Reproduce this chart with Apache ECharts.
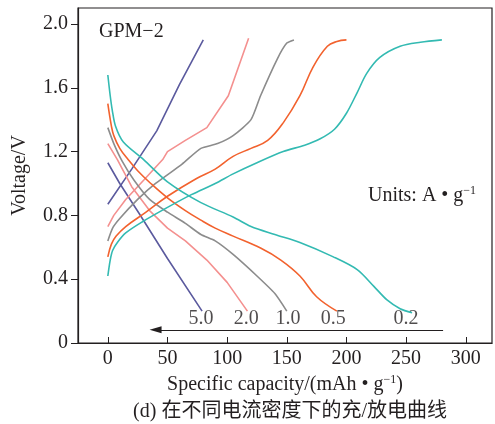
<!DOCTYPE html>
<html>
<head>
<meta charset="utf-8">
<script src="https://cdn.jsdelivr.net/npm/echarts@6/dist/echarts.min.js"></script>
<style>
  html, body { margin: 0; padding: 0; background: #fff; }
  #chart { width: 495px; height: 424px; }
</style>
</head>
<body>
<div id="chart"></div>
<script>
// current densities, A/g
const rates = ['5.0', '2.0', '1.0', '0.5', '0.2'];

// charge curves [capacity mAh/g, voltage V]
const charge50 = [[0, 0.87], [20, 1.09], [41, 1.33], [60, 1.62], [80, 1.90]];
const charge20 = [[0, 0.73], [5, 0.80], [15, 0.90], [30, 1.02], [46, 1.15], [50, 1.20], [65, 1.27], [83, 1.35], [101, 1.55], [118, 1.91]];
const charge10 = [[0, 0.64], [4, 0.72], [10, 0.78], [25, 0.90], [40, 1.00], [62, 1.12], [78, 1.22], [92, 1.25], [105, 1.30], [120, 1.40], [128, 1.55], [142, 1.78], [150, 1.88], [156, 1.90]];
const charge05 = [[0, 0.54], [3, 0.62], [7, 0.67], [15, 0.73], [32, 0.82], [50, 0.92], [74, 1.03], [90, 1.09], [105, 1.17], [120, 1.22], [134, 1.27], [147, 1.38], [161, 1.55], [172, 1.73], [184, 1.86], [192, 1.89], [200, 1.90]];
const charge02 = [[0, 0.42], [2, 0.52], [4, 0.58], [8, 0.63], [15, 0.69], [29, 0.76], [50, 0.85], [70, 0.93], [90, 1.00], [105, 1.06], [125, 1.13], [147, 1.20], [165, 1.24], [178, 1.28], [190, 1.34], [200, 1.44], [209, 1.57], [217, 1.69], [228, 1.79], [245, 1.86], [262, 1.885], [280, 1.90]];

// discharge curves
const discharge50 = [[0, 1.13], [10, 1.00], [26, 0.815], [50, 0.53], [79, 0.20]];
const discharge20 = [[0, 1.25], [8, 1.15], [20, 0.98], [35, 0.83], [50, 0.72], [65, 0.64], [83, 0.52], [100, 0.38], [117, 0.20]];
const discharge10 = [[0, 1.35], [5, 1.25], [12, 1.14], [22, 1.02], [35, 0.90], [50, 0.82], [65, 0.75], [78, 0.68], [90, 0.64], [105, 0.555], [125, 0.42], [140, 0.31], [150, 0.20]];
const discharge05 = [[0, 1.50], [3, 1.36], [5, 1.30], [10, 1.22], [17, 1.15], [25, 1.08], [36, 1.00], [50, 0.91], [65, 0.83], [78, 0.77], [90, 0.72], [105, 0.67], [128, 0.595], [145, 0.52], [161, 0.42], [175, 0.29], [192, 0.20]];
const discharge02 = [[0, 1.68], [2, 1.55], [3.7, 1.46], [6.4, 1.36], [13, 1.26], [30, 1.15], [50, 1.01], [78, 0.88], [105, 0.79], [120, 0.73], [140, 0.68], [161, 0.63], [189, 0.54], [209, 0.46], [223, 0.355], [234, 0.27], [245, 0.215], [255, 0.19]];

// rate labels along the bottom and the arrow
const labelX = [78, 116, 151, 189, 250];
const labelY = 0.155;
const arrowFrom = [281, 0.083];
const arrowTo = [40, 0.083];

const xTicks = [0, 50, 100, 150, 200, 250, 300];
const yTicks = [0, 0.4, 0.8, 1.2, 1.6, 2.0];

const colors = ['#5b5a9e', '#f4908f', '#8c8c8c', '#f2622e', '#33bab2'];
const smoothness = [0, 0, 0.2, 0.4, 0.3];
const charges = [charge50, charge20, charge10, charge05, charge02];
const discharges = [discharge50, discharge20, discharge10, discharge05, discharge02];

const font = "'Liberation Serif', 'Noto Sans CJK SC', serif";
const ink = '#231f20';
const fs = 20;
const supStyle = { fontFamily: font, fontSize: 12, color: ink, verticalAlign: 'top', padding: [0, 0, 9, 0] };

const series = [];
rates.forEach(function (r, i) {
  [charges[i], discharges[i]].forEach(function (d) {
    series.push({
      type: 'line',
      data: d,
      symbol: 'none',
      smooth: smoothness[i],
      lineStyle: { color: colors[i], width: 1.6 },
      z: 3
    });
  });
});

series.push({
  type: 'scatter',
  symbolSize: 0,
  data: labelX.map(function (x, i) { return [x, labelY, rates[i]]; }),
  label: {
    show: true,
    position: 'inside',
    formatter: function (p) { return p.value[2]; },
    fontFamily: font,
    fontSize: fs,
    color: ink
  },
  markLine: {
    silent: true,
    symbol: ['none', 'triangle'],
    symbolSize: [7, 12],
    label: { show: false },
    lineStyle: { color: ink, width: 1.2, type: 'solid' },
    data: [[{ coord: arrowFrom }, { coord: arrowTo }]]
  }
});

const chart = echarts.init(document.getElementById('chart'));
chart.setOption({
  animation: false,
  grid: {
    left: 78, right: 3, top: 8, bottom: 81,
    show: true, borderColor: ink, borderWidth: 1.2
  },
  title: [{
    text: '(d) 在不同电流密度下的充/放电曲线',
    left: 285, top: 397, textAlign: 'center',
    textStyle: { fontFamily: font, fontSize: 20, fontWeight: 'normal', color: ink }
  }, {
    text: 'GPM−2',
    left: 94, top: 17,
    textStyle: { fontFamily: font, fontSize: fs, fontWeight: 'normal', color: ink }
  }, {
    text: 'Units: A • g{s|−1}',
    left: 363, top: 180,
    textStyle: {
      fontFamily: font, fontSize: fs, fontWeight: 'normal', color: ink,
      rich: { s: supStyle }
    }
  }],
  xAxis: {
    type: 'value',
    min: -25, max: 322,
    splitLine: { show: false },
    axisLine: { onZero: false, lineStyle: { color: ink, width: 1.2 } },
    axisTick: { inside: true, length: 6, customValues: xTicks, lineStyle: { color: ink } },
    axisLabel: { customValues: xTicks, margin: 6, fontFamily: font, fontSize: fs, color: ink },
    name: 'Specific capacity/(mAh • g{s|−1})',
    nameLocation: 'middle',
    nameGap: 29,
    nameTextStyle: {
      fontFamily: font, fontSize: fs, color: ink,
      rich: { s: supStyle }
    }
  },
  yAxis: {
    type: 'value',
    min: 0, max: 2.1,
    splitLine: { show: false },
    axisLine: { onZero: false, lineStyle: { color: ink, width: 1.2 } },
    axisTick: { inside: false, length: 7, customValues: yTicks, lineStyle: { color: ink } },
    axisLabel: {
      customValues: yTicks, margin: 10, fontFamily: font, fontSize: fs, color: ink,
      formatter: function (v) { return v === 0 ? '0' : v.toFixed(1); }
    },
    name: 'Voltage/V',
    nameLocation: 'middle',
    nameGap: 48,
    nameTextStyle: { fontFamily: font, fontSize: fs, color: ink }
  },
  series: series
});
</script>
</body>
</html>
